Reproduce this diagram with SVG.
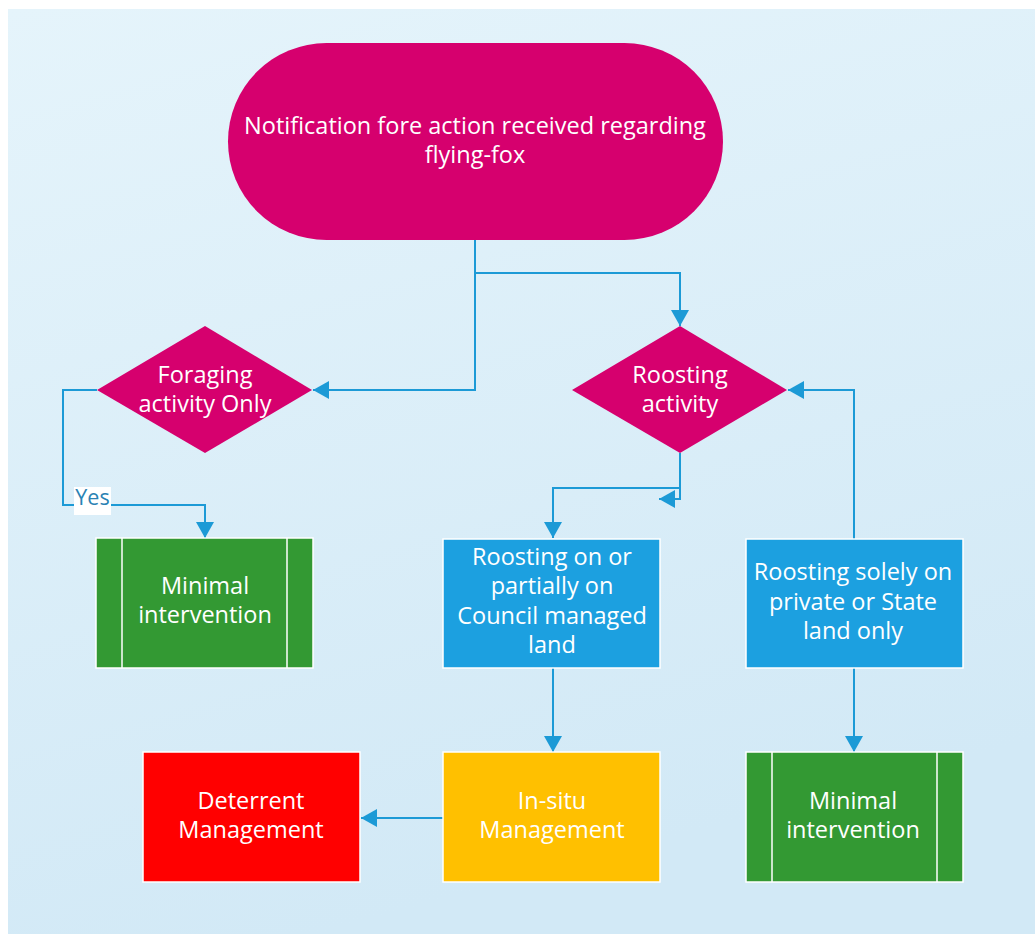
<svg xmlns="http://www.w3.org/2000/svg" width="1035" height="934" viewBox="0 0 1035 934">
  <defs>
    <linearGradient id="bg" x1="0" y1="0" x2="0.3" y2="1">
      <stop offset="0" stop-color="#e5f4fb"/>
      <stop offset="1" stop-color="#d2e9f6"/>
    </linearGradient>
    <marker id="arrow" viewBox="0 0 16 18" refX="16" refY="9" markerWidth="16" markerHeight="18" markerUnits="userSpaceOnUse" orient="auto">
      <path d="M0,0 L16,9 L0,18 Z" fill="#1c9ad6"/>
    </marker>
  </defs>
  <style>
    .lbl { font-family: "Open Sans", "Liberation Sans", sans-serif; font-size: 23.5px; fill: #ffffff; text-anchor: middle; }
    .box { stroke: #ffffff; stroke-width: 1.5; }
    .edge { fill: none; stroke: #1c9ad6; stroke-width: 2; }
    .sep { stroke: #ffffff; stroke-width: 1.5; }
  </style>

  <rect width="1035" height="934" fill="#ffffff"/>
  <rect x="8" y="9" width="1027" height="925" fill="url(#bg)"/>

  <!-- connectors -->
  <g id="connectors">
    <path class="edge" d="M475,240 V390 H313" marker-end="url(#arrow)"/>
    <path class="edge" d="M475,273 H680 V326" marker-end="url(#arrow)"/>
    <path class="edge" d="M97,390 H63 V505 H205 V538" marker-end="url(#arrow)"/>
    <path class="edge" d="M680,453 V488 H553 V538" marker-end="url(#arrow)"/>
    <path class="edge" d="M680,488 V499 H659" marker-end="url(#arrow)"/>
    <path class="edge" d="M854,539 V390 H788" marker-end="url(#arrow)"/>
    <path class="edge" d="M553,668 V752" marker-end="url(#arrow)"/>
    <path class="edge" d="M854,668 V752" marker-end="url(#arrow)"/>
    <path class="edge" d="M443,818 H361" marker-end="url(#arrow)"/>
    <rect x="74" y="487" width="37" height="28" fill="#ffffff"/>
    <text x="92.5" y="505" font-family="'Open Sans', 'Liberation Sans', sans-serif" font-size="21.5" fill="#2a82b4" text-anchor="middle">Yes</text>
  </g>

  <g id="start">
    <rect x="228" y="43" width="495" height="197" rx="98.5" ry="98.5" fill="#d6006e"/>
    <text class="lbl" x="475" y="134">Notification fore action received regarding</text>
    <text class="lbl" x="475" y="163">flying-fox</text>
  </g>

  <g id="foraging">
    <polygon points="205,326 312,390 205,453 97,390" fill="#d6006e"/>
    <text class="lbl" x="205" y="383">Foraging</text>
    <text class="lbl" x="205" y="412">activity Only</text>
  </g>

  <g id="roosting">
    <polygon points="680,326 787,390 680,453 572,390" fill="#d6006e"/>
    <text class="lbl" x="680" y="383">Roosting</text>
    <text class="lbl" x="680" y="412">activity</text>
  </g>

  <g id="minimal-left">
    <rect class="box" x="96" y="538" width="217" height="130" fill="#339933"/>
    <line class="sep" x1="122" y1="538" x2="122" y2="668"/>
    <line class="sep" x1="287" y1="538" x2="287" y2="668"/>
    <text class="lbl" x="205" y="594">Minimal</text>
    <text class="lbl" x="205" y="623">intervention</text>
  </g>

  <g id="council">
    <rect class="box" x="443" y="539" width="217" height="129" fill="#1ca0e0"/>
    <text class="lbl" x="552" y="565">Roosting on or</text>
    <text class="lbl" x="552" y="594">partially on</text>
    <text class="lbl" x="552" y="624">Council managed</text>
    <text class="lbl" x="552" y="653">land</text>
  </g>

  <g id="private">
    <rect class="box" x="746" y="539" width="217" height="129" fill="#1ca0e0"/>
    <text class="lbl" x="853" y="580">Roosting solely on</text>
    <text class="lbl" x="853" y="610">private or State</text>
    <text class="lbl" x="853" y="639">land only</text>
  </g>

  <g id="deterrent">
    <rect class="box" x="143" y="752" width="217" height="130" fill="#ff0000"/>
    <text class="lbl" x="251" y="809">Deterrent</text>
    <text class="lbl" x="251" y="838">Management</text>
  </g>

  <g id="insitu">
    <rect class="box" x="443" y="752" width="217" height="130" fill="#ffc000"/>
    <text class="lbl" x="552" y="809">In-situ</text>
    <text class="lbl" x="552" y="838">Management</text>
  </g>

  <g id="minimal-right">
    <rect class="box" x="746" y="752" width="217" height="130" fill="#339933"/>
    <line class="sep" x1="772" y1="752" x2="772" y2="882"/>
    <line class="sep" x1="937" y1="752" x2="937" y2="882"/>
    <text class="lbl" x="853" y="809">Minimal</text>
    <text class="lbl" x="853" y="838">intervention</text>
  </g>
</svg>
